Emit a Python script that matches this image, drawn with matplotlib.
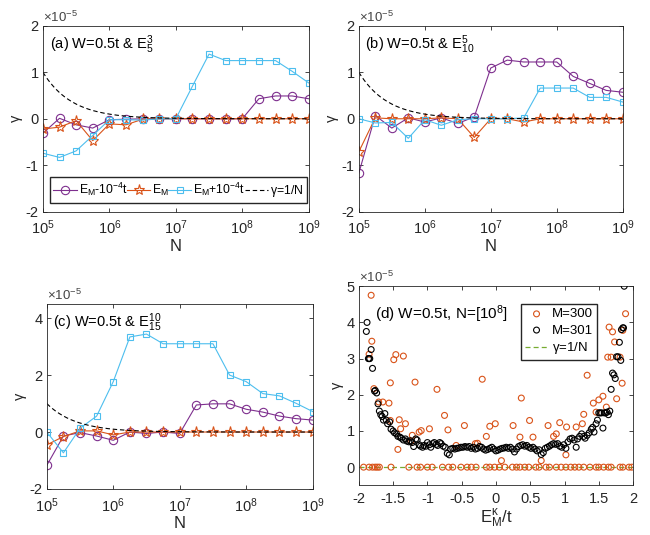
import numpy as np
import matplotlib
matplotlib.use("Agg")
import matplotlib.pyplot as plt
from matplotlib.ticker import NullLocator

plt.rcParams['font.family'] = ['Liberation Sans', 'DejaVu Sans']
plt.rcParams['mathtext.fontset'] = 'custom'
plt.rcParams['mathtext.rm'] = 'Liberation Sans'
plt.rcParams['mathtext.it'] = 'Liberation Sans'
plt.rcParams['axes.unicode_minus'] = False

# system sizes, 4 points per decade
N = 10 ** np.arange(5, 9.01, 0.25)

# gamma values in units of 1e-5
a_minus = [-0.31, 0.01, -0.13, -0.20, -0.02, -0.01, 0, 0, 0, 0, 0, 0, 0, 0.43, 0.49, 0.49, 0.43]
a_mid = [-0.22, -0.18, -0.04, -0.47, -0.11, -0.13, -0.01, 0, 0, 0, 0, 0, 0, 0, 0, 0, 0]
a_plus = [-0.74, -0.83, -0.69, -0.36, -0.02, -0.02, -0.03, 0, 0, 0.70, 1.39, 1.25, 1.25, 1.25, 1.25, 1.02, 0.77]

b_minus = [-1.17, 0.07, -0.20, 0.02, -0.07, 0.02, -0.10, 0.04, 1.09, 1.26, 1.22, 1.22, 1.22, 0.91, 0.76, 0.61, 0.57]
b_mid = [-0.71, 0.02, 0, 0, 0, 0.02, 0, -0.40, 0, 0, -0.07, 0, 0, 0, 0, 0, 0]
b_plus = [0, -0.09, -0.08, -0.42, -0.02, -0.14, -0.02, 0, 0, 0, 0.02, 0.66, 0.66, 0.66, 0.46, 0.46, 0.36]

c_minus = [-1.17, -0.14, -0.02, -0.14, -0.29, 0, -0.05, 0, -0.05, 0.95, 0.99, 0.99, 0.80, 0.70, 0.56, 0.47, 0.42]
c_mid = [-0.45, -0.16, 0.04, 0.04, -0.10, 0, 0, 0, 0, 0, 0, 0, 0, 0, 0, 0, 0]
c_plus = [0, -0.73, 0.13, 0.56, 1.77, 3.34, 3.44, 3.10, 3.10, 3.10, 3.10, 2.00, 1.77, 1.35, 1.27, 1.01, 0.72]

# panel (d): M=300, nonzero rates
e300 = [-1.85, -1.82, -1.81, -1.78, -1.71, -1.65, -1.56, -1.54, -1.54, -1.49, -1.46, -1.43, -1.41,
        -1.39, -1.35, -1.32, -1.24, -1.22, -1.18, -1.12, -1.09, -0.97, -0.86, -0.75, -0.70, -0.58,
        -0.46, -0.30, -0.27, -0.20, -0.14, -0.09, -0.01, 0.08, 0.25, 0.35, 0.37, 0.49, 0.54, 0.66,
        0.76, 0.84, 0.88, 0.93, 1.02, 1.03, 1.17, 1.26, 1.28, 1.33, 1.42, 1.46, 1.50, 1.56, 1.61,
        1.63, 1.65, 1.68, 1.70, 1.73, 1.76, 1.81, 1.84, 1.85, 1.89]
g300 = [3.12, 4.75, 3.48, 2.17, 1.80, 1.80, 1.77, 2.33, 1.29, 2.97, 3.11, 0.49, 1.31,
        1.06, 3.07, 1.20, 0.71, 0.88, 2.35, 0.97, 1.01, 1.06, 2.15, 1.43, 1.03, 0.60,
        1.15, 0.65, 0.66, 2.43, 0.85, 1.13, 1.20, 0.18, 1.15, 0.83, 1.91, 1.29, 0.83, 0.18,
        1.15, 0.85, 0.92, 1.23, 0.34, 1.11, 1.11, 1.20, 1.46, 2.54, 1.77, 1.52, 1.86, 1.96, 1.66,
        3.04, 3.87, 3.04, 3.74, 3.46, 1.89, 3.04, 2.32, 3.78, 4.24]
# M=300, states with zero rate
e300_zero = [-1.93, -1.85, -1.80, -1.76, -1.73, -1.70, -1.53, -1.27, -1.15, -1.10, -1.00, -0.93,
             -0.78, -0.69, -0.63, -0.51, -0.42, -0.36, -0.29, -0.14, -0.09, -0.02, 0.05, 0.13,
             0.24, 0.30, 0.35, 0.42, 0.48, 0.58, 0.63, 0.73, 0.78, 0.88, 0.95, 1.02, 1.09, 1.15,
             1.21, 1.28, 1.37, 1.46, 1.50, 1.57, 1.64, 1.68, 1.81, 1.85, 1.94, 1.98]

# panel (d): M=301
e301 = [-1.88, -1.89, -1.86, -1.85, -1.84, -1.82, -1.80, -1.77, -1.76, -1.74, -1.72, -1.70,
        -1.68, -1.66, -1.64, -1.62, -1.60, -1.58, -1.55, -1.53, -1.50, -1.48, -1.45, -1.43,
        -1.40, -1.38, -1.35, -1.32, -1.30, -1.27, -1.25, -1.22, -1.20, -1.17, -1.15, -1.12,
        -1.10, -1.07, -1.05, -1.02, -1.00, -0.97, -0.95, -0.92, -0.90, -0.87, -0.85, -0.82,
        -0.80, -0.77, -0.74, -0.71, -0.68, -0.66, -0.63, -0.60, -0.57, -0.54, -0.51, -0.48,
        -0.45, -0.42, -0.39, -0.36, -0.33, -0.30, -0.27, -0.24, -0.21, -0.18, -0.15, -0.12,
        -0.09, -0.06, -0.03, 0.00, 0.03, 0.06, 0.09, 0.12, 0.15, 0.18, 0.21, 0.24, 0.27, 0.30,
        0.33, 0.36, 0.39, 0.42, 0.45, 0.48, 0.51, 0.54, 0.57, 0.60, 0.63, 0.66, 0.69, 0.72,
        0.75, 0.78, 0.81, 0.84, 0.87, 0.90, 0.93, 0.96, 0.99, 1.02, 1.05, 1.08, 1.11, 1.14,
        1.17, 1.19, 1.22, 1.25, 1.28, 1.30, 1.33, 1.36, 1.39, 1.41, 1.43, 1.46, 1.48, 1.50,
        1.52, 1.54, 1.56, 1.58, 1.60, 1.62, 1.64, 1.66, 1.68, 1.70, 1.72, 1.74, 1.76, 1.78,
        1.80, 1.82, 1.83, 1.85, 1.86, 1.87]
g301 = [4.00, 3.75, 3.00, 3.00, 3.00, 3.25, 2.73, 2.10, 2.12, 2.05, 1.75, 1.55,
        1.45, 1.40, 1.30, 1.48, 1.30, 1.20, 1.25, 1.05, 1.00, 0.95, 0.92, 0.85,
        0.83, 0.80, 0.75, 0.78, 0.72, 0.70, 0.73, 0.68, 0.57, 0.78, 0.75, 0.62,
        0.58, 0.55, 0.60, 0.58, 0.68, 0.62, 0.55, 0.65, 0.68, 0.63, 0.60, 0.68,
        0.65, 0.58, 0.55, 0.38, 0.34, 0.50, 0.52, 0.50, 0.52, 0.53, 0.55, 0.55,
        0.57, 0.55, 0.57, 0.52, 0.55, 0.50, 0.52, 0.57, 0.55, 0.50, 0.47, 0.49,
        0.52, 0.55, 0.50, 0.45, 0.47, 0.50, 0.52, 0.53, 0.55, 0.52, 0.55, 0.50, 0.42, 0.50,
        0.57, 0.60, 0.62, 0.58, 0.60, 0.55, 0.52, 0.55, 0.50, 0.45, 0.48, 0.35, 0.40, 0.52,
        0.55, 0.58, 0.62, 0.65, 0.63, 0.65, 0.58, 0.55, 0.62, 0.52, 0.70, 0.78, 0.80, 0.75,
        0.55, 0.78, 0.85, 0.92, 0.85, 0.80, 0.88, 0.95, 1.05, 1.10, 0.97, 1.20, 1.30, 1.50,
        1.50, 1.50, 1.08, 1.50, 1.50, 1.52, 1.45, 1.55, 2.15, 2.60, 2.55, 2.45, 3.05, 3.05,
        3.45, 2.95, 3.80, 3.85, 3.85, 5.00]

purple = '#7E2F8E'
orange = '#D95319'
cyan = '#4DBEEE'
green = '#77AC30'
axcol = '#262626'

fig = plt.figure(figsize=(6.5, 5.35), dpi=100)

def style(ax):
    ax.tick_params(direction='in', length=3, top=True, right=True, labelsize=10.5,
                   colors=axcol, width=0.6)
    ax.tick_params(axis='x', pad=5)
    ax.tick_params(axis='y', pad=3)
    for s in ax.spines.values():
        s.set_color(axcol)
        s.set_linewidth(0.6)
    ax.set_ylabel('γ', fontsize=10.5, color=axcol, labelpad=2)
    ax.text(0.0, 1.005, r'$\times10^{-5}$', transform=ax.transAxes, fontsize=9.5,
            color='#444444', va='bottom', ha='left')

def n_panel(rect, minus, mid, plus, title, ylim, yticks):
    ax = fig.add_axes(rect)
    l1, = ax.plot(N, minus, '-o', color=purple, mfc='none', ms=6, lw=0.8, mew=0.8)
    l2, = ax.plot(N, mid, '-*', color=orange, mfc='none', ms=8, lw=0.8, mew=0.8)
    l3, = ax.plot(N, plus, '-s', color=cyan, mfc='none', ms=5, lw=0.8, mew=0.8)
    nn = np.logspace(5, 9, 200)
    l4, = ax.plot(nn, 1e5 / nn, '--', color='k', lw=0.8, dashes=(4, 2.5))
    ax.set_xscale('log')
    ax.set_xlim(1e5, 1e9)
    ax.set_xticks([1e5, 1e6, 1e7, 1e8, 1e9])
    ax.xaxis.set_minor_locator(NullLocator())
    ax.set_ylim(*ylim)
    ax.set_yticks(yticks)
    ax.set_xlabel('N', fontsize=12, color=axcol, labelpad=1)
    ax.text(0.025, 0.90, title, transform=ax.transAxes, fontsize=10.5, va='center', ha='left')
    style(ax)
    return ax, (l1, l2, l3, l4)

ax_a, lines = n_panel([0.066, 0.604, 0.409, 0.348], a_minus, a_mid, a_plus,
                      r'(a) W=0.5t & E$_5^3$', (-2, 2), [-2, -1, 0, 1, 2])
ax_a.legend(lines, [r'E$_M$-10$^{-4}$t', r'E$_M$', r'E$_M$+10$^{-4}$t', r'$\gamma$=1/N'],
            ncol=4, loc='lower left', bbox_to_anchor=(0.026, 0.048, 0.967, 0.14), mode='expand',
            fontsize=8.8, handlelength=1.9, handletextpad=0.15, columnspacing=0.15,
            borderpad=0.3, borderaxespad=0, fancybox=False, edgecolor=axcol, framealpha=1)

n_panel([0.552, 0.604, 0.406, 0.348], b_minus, b_mid, b_plus,
        r'(b) W=0.5t & E$_{10}^5$', (-2, 2), [-2, -1, 0, 1, 2])

n_panel([0.072, 0.086, 0.409, 0.346], c_minus, c_mid, c_plus,
        r'(c) W=0.5t & E$_{15}^{10}$', (-2, 4.5), [-2, 0, 2, 4])

# panel (d)
ax_d = fig.add_axes([0.552, 0.093, 0.422, 0.372])
h1 = ax_d.scatter(e300 + e300_zero, g300 + [0] * len(e300_zero), s=18, facecolors='none',
                  edgecolors=orange, linewidths=0.8, zorder=3)
h2 = ax_d.scatter(e301, g301, s=18, facecolors='none', edgecolors='k', linewidths=0.8, zorder=3)
h3, = ax_d.plot([-2, 2], [0, 0], '--', color=green, lw=0.9, dashes=(4, 2.5), zorder=2)
ax_d.set_xlim(-2, 2)
ax_d.set_ylim(-0.5, 5)
ax_d.set_xticks([-2, -1.5, -1, -0.5, 0, 0.5, 1, 1.5, 2])
ax_d.set_xticklabels(['-2', '-1.5', '-1', '-0.5', '0', '0.5', '1', '1.5', '2'])
ax_d.set_yticks([0, 1, 2, 3, 4, 5])
ax_d.set_xlabel(r'E$_M^\kappa$/t', fontsize=12, color=axcol, labelpad=1)
ax_d.text(0.06, 0.86, r'(d) W=0.5t, N=[10$^8$]', transform=ax_d.transAxes, fontsize=11,
          va='center', ha='left')
ax_d.legend([h1, h2, h3], ['M=300', 'M=301', r'$\gamma$=1/N'], loc='upper right',
            bbox_to_anchor=(0.87, 0.91), fontsize=9.5, handlelength=1.8, handletextpad=0.3,
            borderpad=0.3, borderaxespad=0, fancybox=False, edgecolor=axcol, framealpha=1,
            labelspacing=0.3)
style(ax_d)

fig.savefig('out.png', dpi=100)
